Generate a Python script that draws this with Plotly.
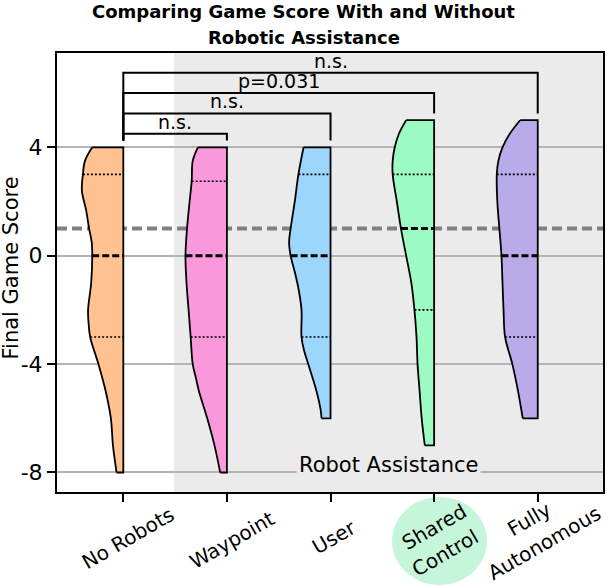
import numpy as np
import plotly.graph_objects as go

# ---------------- data ----------------
categories = ["No Robots", "Waypoint", "User", "Shared Control", "Fully Autonomous"]
category_lines = [["No Robots"], ["Waypoint"], ["User"], ["Shared", "Control"], ["Fully", "Autonomous"]]
fill_colors = ["#FFC290", "#FA98DC", "#9DD6FC", "#9CFBC2", "#B9ABEA"]

# half-violin outlines: score levels (top->bottom) and half-widths (category units)
no_robots_y = [4, 3.5, 3, 2.4, 1.7, 1, 0.5, 0, -1, -2, -2.5, -3, -4, -5, -6, -7, -8]
no_robots_w = [0.30, 0.37, 0.39, 0.40, 0.36, 0.33, 0.305, 0.30, 0.31, 0.34, 0.335, 0.32, 0.24, 0.17, 0.12, 0.10, 0.065]
waypoint_y = [4, 3.5, 2.75, 2, 1, 0, -1, -2, -3, -4, -4.5, -5, -6, -7, -8]
waypoint_w = [0.28, 0.33, 0.34, 0.36, 0.385, 0.40, 0.39, 0.37, 0.35, 0.33, 0.30, 0.27, 0.19, 0.12, 0.065]
user_y = [4, 3, 2, 1, 0.5, 0, -0.6, -1.2, -2, -3, -3.5, -4, -5, -5.7, -6]
user_w = [0.26, 0.31, 0.345, 0.385, 0.40, 0.385, 0.345, 0.31, 0.28, 0.28, 0.255, 0.215, 0.135, 0.095, 0.087]
shared_y = [5, 4.5, 4, 3.5, 3, 2, 1, 0, -1, -2, -3, -4, -5, -6, -7]
shared_w = [0.27, 0.34, 0.38, 0.40, 0.40, 0.36, 0.32, 0.27, 0.22, 0.19, 0.17, 0.16, 0.14, 0.12, 0.09]
fully_y = [5, 4.5, 4, 3.5, 3, 2, 1, 0, -1, -2, -3, -4, -5, -6]
fully_w = [0.17, 0.27, 0.34, 0.38, 0.395, 0.39, 0.37, 0.35, 0.34, 0.33, 0.315, 0.245, 0.19, 0.145]

profiles_y = [no_robots_y, waypoint_y, user_y, shared_y, fully_y]
profiles_w = [no_robots_w, waypoint_w, user_w, shared_w, fully_w]

q1 = [-3, -3, -3, -2, -3]
medians = [0, 0, 0, 1, 0]
q3 = [3, 2.75, 3, 3, 3]

baseline_score = 1
assist_start = 0.49

# significance brackets
bracket_targets = [1, 2, 3, 4]
bracket_levels = [4.5, 5.25, 6.0, 6.75]
bracket_labels = ["n.s.", "n.s.", "p=0.031", "n.s."]
leg_gap = 0.25

title_lines = ["Comparing Game Score With and Without", "Robotic Assistance"]

FONT = "DejaVu Sans"
W, H = 607, 586
ML, MR, MT, MB = 57, 4, 53, 94
PW, PH = W - ML - MR, H - MT - MB

# per-line label placement (pixel offset from tick, pixel centre row)
label_xshift = [[5], [5.3], [3.8], [0, 11], [-8.3, 6.4]]
label_cy = [[538], [539.5], [537], [527, 553], [519, 542.5]]


def py2paper(py):
    return (H - MB - py) / PH


def px2paper(px):
    return (px - ML) / PW


fig = go.Figure()

for i in range(len(categories)):
    ys = profiles_y[i]
    ws = profiles_w[i]
    top, bot = ys[0], ys[-1]
    fig.add_trace(go.Scatter(
        x=[i - ws[0], i, i, i - ws[-1]], y=[top, top, bot, bot],
        mode="lines", line=dict(color="black", width=1.8),
        hoverinfo="skip", showlegend=False, name=categories[i]))
    fig.add_trace(go.Scatter(
        x=[i - w for w in ws], y=ys, mode="lines", fill="tonextx",
        fillcolor=fill_colors[i],
        line=dict(color="black", width=1.8, shape="spline", smoothing=1.0),
        hoverinfo="skip", showlegend=False, name=categories[i]))

for i in range(len(categories)):
    ys = np.array(profiles_y[i])[::-1]
    ws = np.array(profiles_w[i])[::-1]
    for q, dash, lw in [(q1[i], "2px,2px", 1.6), (q3[i], "2px,2px", 1.6), (medians[i], "7px,3px", 3)]:
        wq = float(np.interp(q, ys, ws))
        fig.add_trace(go.Scatter(
            x=[i - wq, i], y=[q, q], mode="lines",
            line=dict(color="black", width=lw, dash=dash),
            hoverinfo="skip", showlegend=False))

base_top = max(profiles_y[0])
for tgt, lvl, lab in zip(bracket_targets, bracket_levels, bracket_labels):
    tgt_top = max(profiles_y[tgt])
    fig.add_trace(go.Scatter(
        x=[0, 0, tgt, tgt], y=[base_top + leg_gap, lvl, lvl, tgt_top + leg_gap],
        mode="lines", line=dict(color="black", width=2),
        hoverinfo="skip", showlegend=False))
    fig.add_annotation(x=tgt / 2, y=lvl, text=lab, showarrow=False,
                       xanchor="center", yanchor="bottom", yshift=-1,
                       font=dict(family=FONT, size=19, color="black"))

# x tick labels (rotated about their centres, one annotation per line)
for i, lines in enumerate(category_lines):
    for line, xs, cy in zip(lines, label_xshift[i], label_cy[i]):
        fig.add_annotation(x=i, xref="x", xshift=xs, y=py2paper(cy), yref="paper",
                           text=line, textangle=-30, showarrow=False,
                           xanchor="center", yanchor="middle",
                           font=dict(family=FONT, size=20, color="black"))

# y axis title
fig.add_annotation(x=px2paper(10), y=py2paper(268.5), xref="paper", yref="paper",
                   text="Final Game Score", textangle=-90, showarrow=False,
                   xanchor="center", yanchor="middle",
                   font=dict(family=FONT, size=21, color="black"))

# title
for txt, cy in zip(title_lines, [11.5, 37]):
    fig.add_annotation(x=px2paper(W / 2), y=py2paper(cy), xref="paper", yref="paper",
                       text="<b>" + txt + "</b>", showarrow=False,
                       xanchor="center", yanchor="middle",
                       font=dict(family=FONT, size=18, color="black"))

shapes = [
    dict(type="rect", xref="x", yref="paper", x0=assist_start, x1=10, y0=0, y1=1,
         fillcolor="#EBEBEB", line=dict(width=0), layer="below"),
    dict(type="line", xref="paper", yref="y", x0=0, x1=1, y0=baseline_score, y1=baseline_score,
         line=dict(color="#808080", width=4, dash="10px,5px"), layer="between"),
    dict(type="circle", xref="paper", yref="paper",
         x0=px2paper(392), x1=px2paper(487), y0=py2paper(585), y1=py2paper(497),
         fillcolor="#C6F6DA", line=dict(width=0), layer="below"),
]

fig.add_annotation(x=(assist_start + 4.63) / 2, y=-7.72, text="Robot Assistance",
                   showarrow=False, xanchor="center", yanchor="middle",
                   bgcolor="#EBEBEB", borderpad=2,
                   font=dict(family=FONT, size=21, color="black"))

fig.update_layout(
    width=W, height=H,
    margin=dict(l=ML, r=MR, t=MT, b=MB, autoexpand=False),
    paper_bgcolor="white", plot_bgcolor="white",
    font=dict(family=FONT, size=19, color="black"),
    shapes=shapes,
    showlegend=False,
)

fig.update_xaxes(
    range=[-0.64, 4.63], tickmode="array", tickvals=list(range(len(categories))),
    ticktext=categories, showticklabels=False, ticks="outside", ticklen=8, tickwidth=1.5,
    tickcolor="black", showgrid=False, zeroline=False, automargin=False,
    showline=True, linecolor="black", linewidth=2, mirror=True,
)
fig.update_yaxes(
    range=[-8.72, 7.48], tickmode="array", tickvals=[-8, -4, 0, 4],
    ticktext=["-8", "-4", "0", "4"], ticks="outside", ticklen=8, tickwidth=1.5,
    tickcolor="black", showgrid=True, gridcolor="#B4B4B4", gridwidth=1.5, zeroline=False,
    showline=True, linecolor="black", linewidth=2, mirror=True, automargin=False,
    tickfont=dict(family=FONT, size=22, color="black"),
)

fig.write_html("out.html")
